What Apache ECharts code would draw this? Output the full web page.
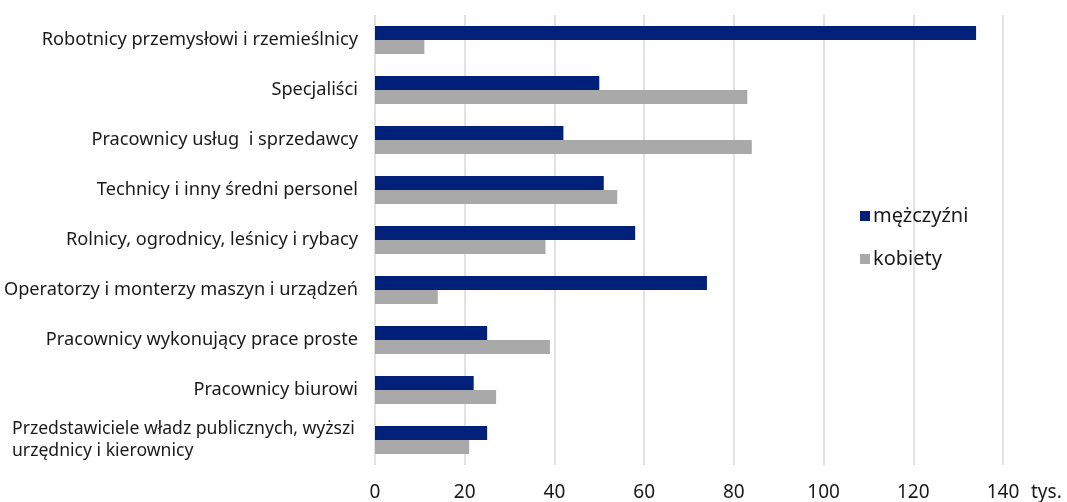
<!DOCTYPE html>
<html>
<head>
<meta charset="utf-8">
<script src="https://cdn.jsdelivr.net/npm/echarts@6/dist/echarts.min.js"></script>
<style>html,body{margin:0;padding:0;background:#fff}#c{width:1067px;height:502px}</style>
</head>
<body>
<div id="c"></div>
<script>
const categories = [
  'Robotnicy przemysłowi i rzemieślnicy',
  'Specjaliści',
  'Pracownicy usług  i sprzedawcy',
  'Technicy i inny średni personel',
  'Rolnicy, ogrodnicy, leśnicy i rybacy',
  'Operatorzy i monterzy maszyn i urządzeń',
  'Pracownicy wykonujący prace proste',
  'Pracownicy biurowi',
  'Przedstawiciele władz publicznych, wyższi\nurzędnicy i kierownicy'
];
const men = [134, 50, 42, 51, 58, 74, 25, 22, 25];
const women = [11, 83, 84, 54, 38, 14, 39, 27, 21];
const seriesNames = ['mężczyźni', 'kobiety'];
const xTicks = [0, 20, 40, 60, 80, 100, 120, 140];
const unitLabel = 'tys.';

const FONT = 'Noto Sans';
const YFS = 18.2;
const chart = echarts.init(document.getElementById('c'), null, {renderer: 'canvas'});
chart.setOption({
  animation: false,
  textStyle: {fontFamily: FONT},
  grid: {left: 375, right: 64, top: 15, bottom: 35, containLabel: false},
  legend: {
    data: seriesNames,
    orient: 'vertical',
    left: 855, top: 201,
    icon: 'rect', itemWidth: 10, itemHeight: 10, itemGap: 23,
    textStyle: {fontFamily: FONT, fontSize: 20, color: '#1a1a1a', padding: [0,0,0,-2]}
  },
  xAxis: {
    type: 'value', min: xTicks[0], max: xTicks[xTicks.length-1], interval: 20,
    axisLine: {show: false}, axisTick: {show: false},
    splitLine: {show: true, lineStyle: {color: '#d9d9d9', width: 1.5}},
    axisLabel: {fontFamily: FONT, fontSize: 19, color: '#1a1a1a', margin: 18},
    name: unitLabel, nameLocation: 'end', nameGap: 28,
    nameTextStyle: {fontFamily: FONT, fontSize: 19, color: '#1a1a1a', verticalAlign: 'top', padding: [18, 0, 0, 0]}
  },
  yAxis: {
    type: 'category', data: categories, inverse: true,
    axisLine: {show: false}, axisTick: {show: false},
    axisLabel: {
      fontFamily: FONT, fontSize: YFS, color: '#1a1a1a', margin: 17, lineHeight: 22,
      formatter: function (v) {
        if (v.indexOf('\n') >= 0) {
          return v.split('\n').map(s => '{w|' + s + '}').join('\n');
        }
        return v;
      },
      rich: {w: {width: 346, align: 'left', fontFamily: FONT, fontSize: 17.6, color: '#1a1a1a', lineHeight: 22}}
    }
  },
  series: [
    {name: seriesNames[0], type: 'bar', data: men, barGap: '0%', barCategoryGap: '44%',
     itemStyle: {color: '#00207a'}},
    {name: seriesNames[1], type: 'bar', data: women, barGap: '0%', barCategoryGap: '44%',
     itemStyle: {color: '#a9a9a9'}}
  ]
});
</script>
</body>
</html>
